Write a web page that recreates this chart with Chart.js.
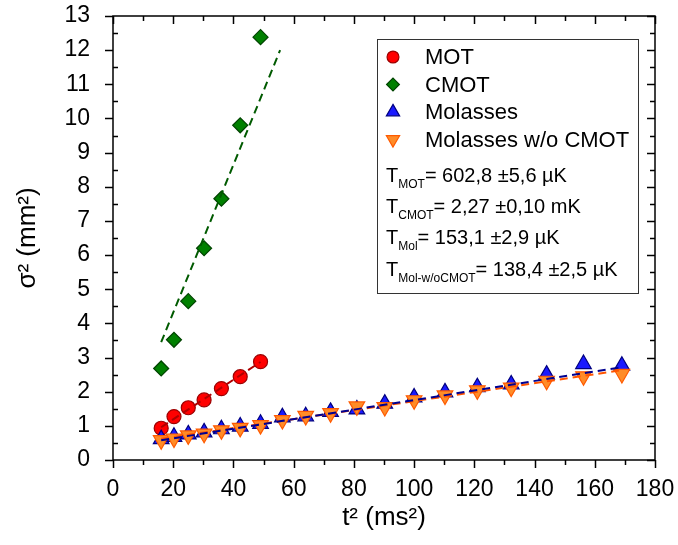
<!DOCTYPE html>
<html>
<head>
<meta charset="utf-8">
<script src="https://cdn.jsdelivr.net/npm/chart.js"></script>
<style>
  html, body { margin: 0; padding: 0; background: #fff; }
  #wrap { width: 678px; height: 545px; }
</style>
</head>
<body>
<div id="wrap"><canvas id="tofChart" width="678" height="545"></canvas></div>
<script>
'use strict';
// ===================== data =====================
// time of flight squared, ms^2
const tSqShort = [16, 20.25, 25, 30.25, 36, 42.25, 49];
const tSqLong  = [16, 20.25, 25, 30.25, 36, 42.25, 49, 56.25, 64, 72.25, 81,
                  90.25, 100, 110.25, 121, 132.25, 144, 156.25, 169];

// cloud size sigma^2, mm^2
const motSigma2    = [0.93, 1.27, 1.53, 1.76, 2.09, 2.44, 2.88];
const cmotSigma2   = [2.68, 3.52, 4.65, 6.20, 7.65, 9.80, 12.38];
const molSigma2    = [0.61, 0.68, 0.75, 0.81, 0.90, 0.98, 1.06, 1.25, 1.28, 1.41,
                      1.48, 1.65, 1.83, 1.98, 2.13, 2.21, 2.50, 2.81, 2.76];
const molNoCSigma2 = [0.58, 0.63, 0.72, 0.77, 0.87, 0.94, 1.02, 1.17, 1.29, 1.37,
                      1.57, 1.55, 1.75, 1.89, 2.04, 2.12, 2.32, 2.45, 2.52];

// linear fits (start / end points)
const motFitX    = [16, 49];    const motFitY    = [0.96, 2.87];
const cmotFitX   = [16, 55.5];  const cmotFitY   = [3.45, 12.0];
const molFitX    = [16, 169];   const molFitY    = [0.58, 2.72];
const molNoCFitX = [16, 169];   const molNoCFitY = [0.62, 2.63];

const seriesNames = ['MOT', 'CMOT', 'Molasses', 'Molasses w/o CMOT'];
const tempLines = [
    ['MOT', '= 602,8 \u00b15,6 \u00b5K'],
    ['CMOT', '= 2,27 \u00b10,10 mK'],
    ['Mol', '= 153,1 \u00b12,9 \u00b5K'],
    ['Mol-w/oCMOT', '= 138,4 \u00b12,5 \u00b5K'],
];

const xTicks = { min: 0, max: 180, major: 20, minor: 10 };
const yTicks = { min: 0, max: 13, major: 1, minor: 0.5 };

// ===================== helpers =====================
const FONT = "'Liberation Sans', Arial, sans-serif";
const pts = (xs, ys) => xs.map((x, i) => ({ x, y: ys[i] }));

const STYLES = {
    mot:    { pointStyle: 'circle',   radius: 7,   rotation: 0,   fill: '#ff0000', edge: '#9b0000' },
    cmot:   { pointStyle: 'rectRot',  radius: 7.5, rotation: 0,   fill: '#008000', edge: '#004400' },
    mol:    { pointStyle: 'triangle', radius: 9,   rotation: 0,   fill: '#1a1aff', edge: '#000080' },
    molNoC: { pointStyle: 'triangle', radius: 9,   rotation: 180, fill: '#ff8c28', edge: '#ff5a00' },
};

function markerSet(label, data, s, order) {
    return {
        label, data, order,
        showLine: false,
        pointStyle: s.pointStyle,
        pointRadius: s.radius,
        pointHoverRadius: s.radius,
        pointRotation: s.rotation,
        backgroundColor: s.fill,
        borderColor: s.edge,
        pointBorderWidth: 1.2,
    };
}

function fitSet(data, color) {
    return {
        label: '', data, order: 0,
        showLine: true,
        pointRadius: 0,
        borderColor: color,
        borderWidth: 2,
        borderDash: [8, 5],
        fill: false,
    };
}

// box frame with Origin-like ticks on all four sides
const framePlugin = {
    id: 'frame',
    beforeDatasetsDraw(chart) {
        const { ctx, chartArea: a, scales: { x, y } } = chart;
        ctx.save();
        ctx.strokeStyle = '#000';
        ctx.lineWidth = 1.5;
        ctx.strokeRect(a.left, a.top, a.right - a.left, a.bottom - a.top);
        ctx.beginPath();
        for (let v = xTicks.min; v <= xTicks.max + 1e-9; v += xTicks.minor) {
            const px = Math.round(x.getPixelForValue(v)) + 0.5;
            const len = Math.abs(v % xTicks.major) < 1e-9 ? 8 : 5;
            ctx.moveTo(px, a.bottom); ctx.lineTo(px, a.bottom + len);   // bottom, outward
            ctx.moveTo(px, a.top);    ctx.lineTo(px, a.top + len);      // top, inward
        }
        for (let v = yTicks.min; v <= yTicks.max + 1e-9; v += yTicks.minor) {
            const py = Math.round(y.getPixelForValue(v)) + 0.5;
            const major = Math.abs(v % yTicks.major) < 1e-9;
            if (major) { ctx.moveTo(a.left, py); ctx.lineTo(a.left - 8, py); }
            else       { ctx.moveTo(a.left, py); ctx.lineTo(a.left + 5, py); }
            ctx.moveTo(a.right, py); ctx.lineTo(a.right - (major ? 8 : 5), py);
        }
        ctx.stroke();
        ctx.restore();
    }
};

// legend box with the fitted temperatures
const legendPlugin = {
    id: 'fitLegend',
    afterDraw(chart) {
        const { ctx, chartArea: a } = chart;
        const left = a.right - 278, top = a.top + 23, w = 261, h = 254;
        ctx.save();
        ctx.fillStyle = '#fff';
        ctx.fillRect(left, top, w, h);
        ctx.strokeStyle = '#333';
        ctx.lineWidth = 1;
        ctx.strokeRect(left + 0.5, top + 0.5, w, h);

        const keys = ['mot', 'cmot', 'mol', 'molNoC'];
        ctx.textBaseline = 'middle';
        ctx.textAlign = 'left';
        keys.forEach((k, i) => {
            const s = STYLES[k];
            const cy = top + 18 + i * 27.5;
            const cx = left + 16;
            ctx.fillStyle = s.fill;
            ctx.strokeStyle = s.edge;
            ctx.lineWidth = 1.2;
            Chart.helpers.drawPoint(ctx, {
                pointStyle: s.pointStyle,
                radius: s.radius * 0.85,
                rotation: s.rotation,
                borderWidth: 1.2,
            }, cx, cy);
            ctx.fillStyle = '#000';
            ctx.font = `22px ${FONT}`;
            ctx.fillText(seriesNames[i], left + 48, cy + 1);
        });

        ctx.textBaseline = 'alphabetic';
        tempLines.forEach(([sub, rest], i) => {
            const base = top + 143 + i * 31.2;
            let tx = left + 9;
            ctx.fillStyle = '#000';
            ctx.font = `20px ${FONT}`;
            ctx.fillText('T', tx, base);
            tx += ctx.measureText('T').width;
            ctx.font = `12px ${FONT}`;
            ctx.fillText(sub, tx, base + 6);
            tx += ctx.measureText(sub).width;
            ctx.font = `20px ${FONT}`;
            ctx.fillText(rest, tx, base);
        });
        ctx.restore();
    }
};

// ===================== chart =====================
const tickFont = { family: FONT, size: 23 };
const titleFont = { family: FONT, size: 26 };

new Chart(document.getElementById('tofChart').getContext('2d'), {
    type: 'scatter',
    data: {
        datasets: [
            fitSet(pts(motFitX, motFitY), '#b00000'),
            fitSet(pts(cmotFitX, cmotFitY), '#005a00'),
            fitSet(pts(molFitX, molFitY), '#000090'),
            fitSet(pts(molNoCFitX, molNoCFitY), '#ff5500'),
            markerSet('Molasses w/o CMOT', pts(tSqLong, molNoCSigma2), STYLES.molNoC, 1),
            markerSet('Molasses', pts(tSqLong, molSigma2), STYLES.mol, 2),
            markerSet('MOT', pts(tSqShort, motSigma2), STYLES.mot, 3),
            markerSet('CMOT', pts(tSqShort, cmotSigma2), STYLES.cmot, 3),
        ]
    },
    options: {
        responsive: false,
        animation: false,
        layout: { padding: { top: 16, right: 23, left: 0, bottom: 0 } },
        plugins: {
            legend: { display: false },
            tooltip: { enabled: false },
        },
        scales: {
            x: {
                type: 'linear',
                min: xTicks.min, max: xTicks.max,
                grid: { display: false },
                border: { display: false },
                ticks: { stepSize: xTicks.major, color: '#000', font: tickFont, padding: 8, maxRotation: 0 },
                title: { display: true, text: 't\u00b2 (ms\u00b2)', color: '#000', font: titleFont, padding: { top: 0, bottom: 12 } },
                afterFit: s => { s.height = 85; s.paddingLeft = 0; s.paddingRight = 0; },
            },
            y: {
                type: 'linear',
                min: yTicks.min, max: yTicks.max,
                grid: { display: false },
                border: { display: false },
                ticks: { stepSize: yTicks.major, color: '#000', font: tickFont, padding: 15 },
                title: { display: true, text: '\u03c3\u00b2 (mm\u00b2)', color: '#000', font: titleFont, padding: { top: 12, bottom: 0 } },
                afterFit: s => { s.width = 113; s.paddingTop = 0; s.paddingBottom = 0; },
            }
        }
    },
    plugins: [framePlugin, legendPlugin]
});
</script>
</body>
</html>
